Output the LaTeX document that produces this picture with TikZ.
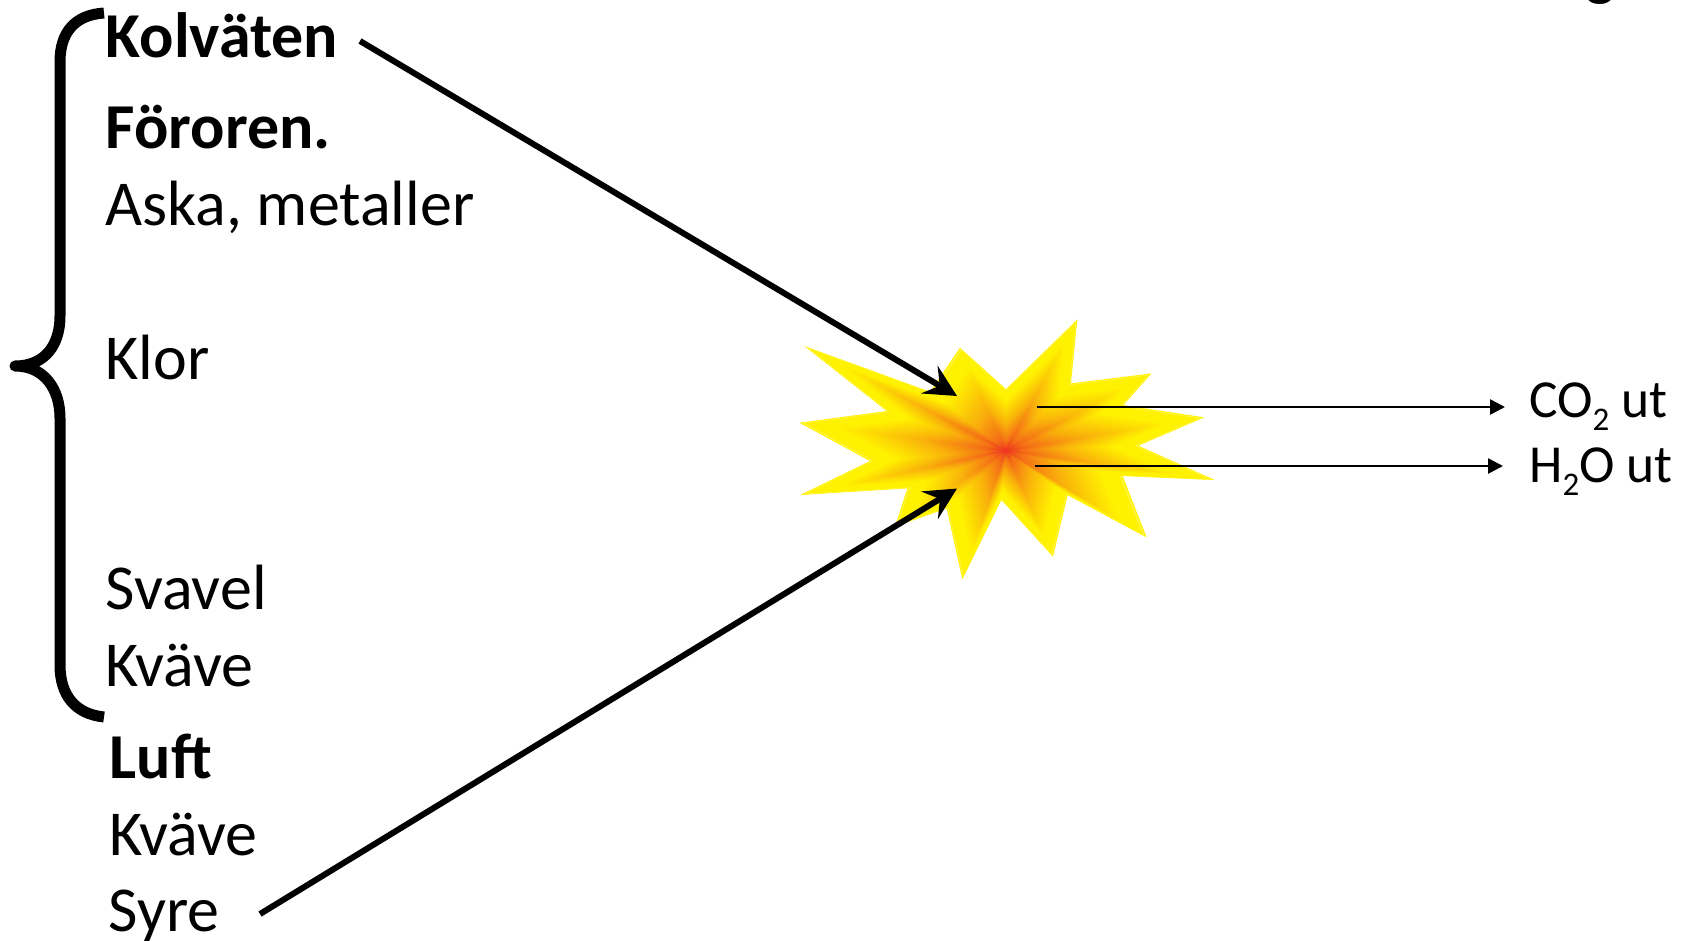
\documentclass[tikz,border=0pt]{standalone}
\usepackage{fontspec}
\setmainfont{Carlito}
\usetikzlibrary{arrows.meta}
\newcommand{\starshape}{(-605,-314) -- (-228,-177) -- (-138,-309) -- (0,-185) -- (214,-394) -- (195,-202) -- (437,-232) -- (352,-137) -- (595,-100) -- (397,-15) -- (627,88) -- (350,76) -- (422,260) -- (185,133) -- (141,318) -- (-14,148) -- (-131,386) -- (-178,173) -- (-333,228) -- (-296,113) -- (-618,133) -- (-408,31) -- (-620,-84) -- (-358,-119) -- cycle}
\newcommand{\subtwo}{\raisebox{-13pt}{\fontsize{33}{33}\selectfont 2}}
\tikzset{
  big/.style={anchor=base west,inner sep=0pt,font=\fontsize{64}{64}\selectfont},
  bigb/.style={big,font=\fontsize{64}{64}\selectfont\bfseries},
  small/.style={anchor=base west,inner sep=0pt,font=\fontsize{53.5}{54}\selectfont},
  thick arrow/.style={line width=6pt,-{Stealth[length=32pt,width=32pt,inset=12pt]}},
  thin arrow/.style={line width=2.6pt,-{Triangle[length=15pt,width=15pt]}},
  bracestroke/.style={line width=11pt,line cap=butt,line join=round}
}
\begin{document}
\begin{tikzpicture}[x=1pt,y=-1pt]
\useasboundingbox (0,0) rectangle (1683,940);
% explosion, drawn as nested copies of the outline
\foreach \i in {0,...,70}{
  \pgfmathsetmacro{\s}{1-\i/70}
  \pgfmathsetmacro{\g}{\s<0.12 ? 8+\s/0.12*30 : (\s<0.42 ? 38+(\s-0.12)/0.3*32 : (\s<0.82 ? 70+(\s-0.42)/0.4*30 : 100))}
  \pgfmathsetmacro{\w}{\i==1 ? 72 : 100}
  \colorlet{cc}{yellow!\g!red}
  \fill[cc!\w!white,shift={(1006,450.7)},scale=\s/3] \starshape;
}
\coordinate (c1) at (957,396);
\coordinate (c2) at (957,488.5);
\coordinate (o1s) at (1037,407);
\coordinate (o1e) at (1505,407);
\coordinate (o2s) at (1035,466);
\coordinate (o2e) at (1503,466);
\coordinate (k) at (360,41);
\coordinate (s) at (260,914);
% brace
\draw[bracestroke] (104,13) .. controls (75,15) and (60,32) .. (60,62) -- (60,316) .. controls (60,345) and (45,366) .. (15,366) .. controls (45,366) and (60,390) .. (60,418) -- (60,665) .. controls (60,695) and (75,714) .. (104,717);
% labels
\node[bigb] (n1) at (105.5,57) {Kolväten};
\node[bigb] (n2) at (105.5,148) {Föroren.};
\node[big] (n3) at (105.5,225) {Aska, metaller};
\node[big] (n4) at (105.5,379) {Klor};
\node[big] (n5) at (105.5,609) {Svavel};
\node[big] (n6) at (105.5,686) {Kväve};
\node[bigb] (n7) at (109.5,778) {Luft};
\node[big] (n8) at (109.5,855) {Kväve};
\node[big] (n9) at (108.5,931) {Syre};
\node[small] (n10) at (1529,417) {CO\subtwo{} ut};
\node[small] (n11) at (1529,482) {H\subtwo{}O ut};
\node[big] (n12) at (1585,-7) {g};
% arrows
\draw[thick arrow] (k) -- (c1);
\draw[thick arrow] (s) -- (c2);
\draw[thin arrow] (o1s) -- (o1e);
\draw[thin arrow] (o2s) -- (o2e);
\end{tikzpicture}
\end{document}
